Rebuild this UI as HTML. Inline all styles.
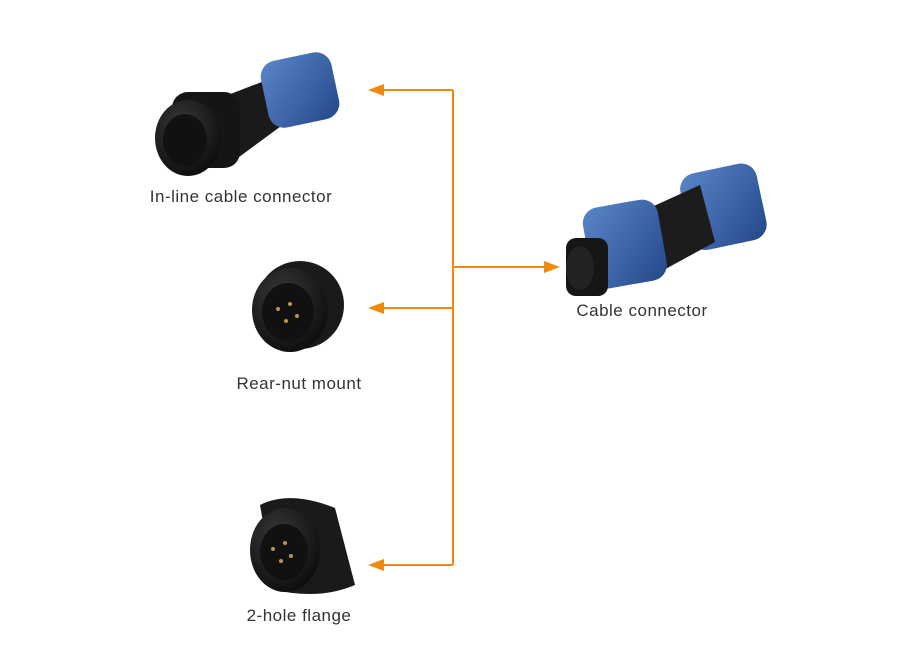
<!DOCTYPE html>
<html><head><style>
body{margin:0;background:#fff;width:910px;height:665px;overflow:hidden;position:relative;font-family:"Liberation Sans",sans-serif}
.l{position:absolute;font-size:17px;color:#333;letter-spacing:0.5px;white-space:nowrap;transform:translateX(-50%)}
svg{position:absolute;left:0;top:0}
</style></head><body>
<svg width="910" height="665" viewBox="0 0 910 665">
<defs>
<linearGradient id="bl" x1="0" y1="0" x2="1" y2="1"><stop offset="0" stop-color="#5a86c8"/><stop offset="1" stop-color="#23488a"/></linearGradient>
<radialGradient id="dk" cx="0.4" cy="0.35" r="0.7"><stop offset="0" stop-color="#3a3a3a"/><stop offset="1" stop-color="#0c0c0c"/></radialGradient>
</defs>
<g stroke="#ee8a10" stroke-width="2" fill="none">
<path d="M453 90V565M383 90H453M383 308H453M383 565H453M453 267H545"/>
</g>
<g fill="#ee8a10">
<polygon points="368,90 384,84 384,96"/>
<polygon points="368,308 384,302 384,314"/>
<polygon points="368,565 384,559 384,571"/>
<polygon points="560,267 544,261 544,273"/>
</g>
<!-- in-line -->
<g>
<polygon points="215,100 272,78 292,118 235,160" fill="#1a1a1a"/>
<g transform="rotate(-12 300 90)"><rect x="264" y="56" width="72" height="68" rx="16" fill="url(#bl)"/></g>
<rect x="172" y="92" width="68" height="76" rx="16" fill="#151515"/>
<ellipse cx="188" cy="138" rx="33" ry="38" fill="url(#dk)"/>
<ellipse cx="185" cy="140" rx="22" ry="26" fill="#111"/>
</g>
<!-- rear-nut -->
<g>
<ellipse cx="300" cy="305" rx="44" ry="44" fill="#1a1a1a"/>
<ellipse cx="290" cy="310" rx="38" ry="42" fill="url(#dk)"/>
<ellipse cx="288" cy="312" rx="26" ry="29" fill="#111"/>
<g fill="#b8974a"><circle cx="278" cy="309" r="2"/><circle cx="290" cy="304" r="2"/><circle cx="286" cy="321" r="2"/><circle cx="297" cy="316" r="2"/></g>
</g>
<!-- 2-hole -->
<g>
<path d="M260 505 Q290 490 335 508 L355 585 Q320 600 275 590 Z" fill="#1a1a1a"/>
<ellipse cx="285" cy="550" rx="35" ry="42" fill="url(#dk)"/>
<ellipse cx="284" cy="552" rx="24" ry="28" fill="#111"/>
<g fill="#b8974a"><circle cx="273" cy="549" r="2"/><circle cx="285" cy="543" r="2"/><circle cx="281" cy="561" r="2"/><circle cx="291" cy="556" r="2"/></g>
</g>
<!-- cable connector -->
<g>
<g transform="rotate(-12 722 205)"><rect x="684" y="168" width="78" height="78" rx="16" fill="url(#bl)"/></g>
<polygon points="645,210 700,185 715,242 660,272" fill="#1c1c1c"/>
<g transform="rotate(-10 625 245)"><rect x="587" y="203" width="76" height="82" rx="16" fill="url(#bl)"/></g>
<rect x="566" y="238" width="42" height="58" rx="10" fill="#161616"/>
<ellipse cx="580" cy="268" rx="14" ry="22" fill="#222"/>
</g>
</svg>
<div class="l" style="left:241px;top:187px">In-line cable connector</div>
<div class="l" style="left:299px;top:374px">Rear-nut mount</div>
<div class="l" style="left:299px;top:606px">2-hole flange</div>
<div class="l" style="left:642px;top:301px">Cable connector</div>
</body></html>
